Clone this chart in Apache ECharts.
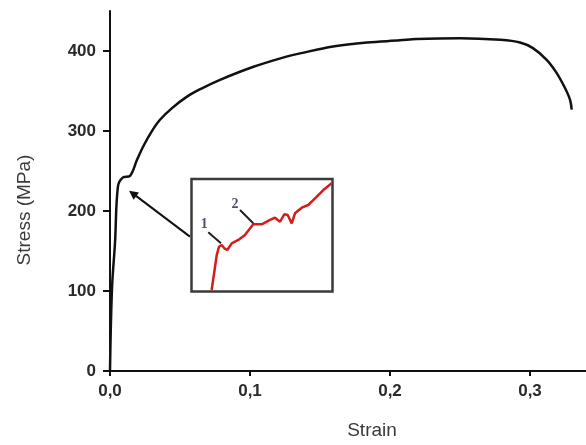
<!DOCTYPE html>
<html lang="en">
<head>
<meta charset="UTF-8">
<title>Stress-Strain</title>
<style>
    html, body { margin: 0; padding: 0; background: #fff; }
    #chart { width: 586px; height: 445px; }
</style>
<script src="https://cdn.jsdelivr.net/npm/echarts@6/dist/echarts.min.js"></script>
</head>
<body>
<div id="chart"></div>
<script>
// main curve
const strain = [0, 0.0014, 0.0036, 0.0057, 0.0093, 0.0143, 0.0193, 0.0238, 0.0296, 0.0357, 0.0443, 0.055, 0.0664, 0.0786, 0.102, 0.126, 0.1357, 0.1593, 0.1836, 0.2071, 0.219, 0.25, 0.279, 0.2929, 0.3021, 0.3119, 0.3191, 0.325, 0.3286, 0.3298];
const stress = [0, 102, 161, 231, 242, 244, 264, 281, 299, 314, 328.6, 343, 354, 364, 380, 393, 397, 405.6, 410.6, 413.3, 415, 416, 414, 410.6, 403.6, 389, 372.4, 353.7, 339, 326.7];

// ticks
const xTicks = [0, 0.1, 0.2, 0.3];
const yTicks = [0, 100, 200, 300, 400];

// inset (zoom of the yield region), box units 0..100
const insetX = [14.3, 16.2, 17.9, 19.5, 21.4, 23.3, 25.4, 28.5, 33.2, 37.9, 43.8, 49.8, 55.7, 59.2, 62.8, 65.8, 68.2, 71.1, 73.4, 78.2, 82.8, 87.6, 93.5, 99.4];
const insetY = [1.3, 17.6, 32.4, 39.8, 41.3, 38.4, 36.9, 42.8, 45.8, 50.2, 59.7, 59.7, 63.6, 65.6, 62.0, 68.6, 68.0, 60.6, 69.5, 74.5, 76.9, 82.8, 90.2, 96.2];

// markers 1 and 2 in the inset
const markNames = ['1', '2'];
const markLabelPos = [[9.1, 59.7], [30.9, 77.5]];
const markLeaders = [[[11.9, 52.6], [20.9, 42.8]], [[34.4, 72.4], [43.8, 60.6]]];

// arrow from inset to curve: [strain, stress]
const arrowFrom = [0.0571, 168];
const arrowTo = [0.0162, 222];

let chart = echarts.init(document.getElementById('chart'), null, {renderer: 'canvas'});

let mainData = strain.map((v, i) => [v, stress[i]]);
let insetData = insetX.map((v, i) => [v, insetY[i]]);
let leaderData = [];
markLeaders.forEach((seg) => {
    leaderData.push(seg[0], seg[1], [null, null]);
});

let option = {
    animation: false,
    backgroundColor: '#fff',
    grid: [
        {left: 110, right: 0, top: 11, bottom: 73},
        {left: 191.5, top: 179, width: 141, height: 112.5, show: true,
            borderColor: '#3a3a3a', borderWidth: 2.5, backgroundColor: '#fff', z: 5}
    ],
    xAxis: [
        {
            type: 'value', gridIndex: 0, min: 0, max: 0.34, interval: 0.1,
            name: 'Strain', nameLocation: 'middle', nameGap: 50,
            nameTextStyle: {fontFamily: 'Liberation Sans', fontSize: 19, color: '#3a3a3a', padding: [0, 0, 0, 48]},
            axisLine: {lineStyle: {color: '#111', width: 2}},
            axisTick: {show: true, length: 5, lineStyle: {color: '#111', width: 2}, customValues: xTicks},
            axisLabel: {
                customValues: xTicks, margin: 12,
                fontFamily: 'Liberation Sans', fontSize: 17, fontWeight: 'bold', color: '#2a2a2a',
                formatter: (v) => v.toFixed(1).replace('.', ',')
            },
            splitLine: {show: false}
        },
        {type: 'value', gridIndex: 1, min: 0, max: 100, show: false}
    ],
    yAxis: [
        {
            type: 'value', gridIndex: 0, min: 0, max: 450, interval: 50,
            name: 'Stress (MPa)', nameLocation: 'middle', nameGap: 76, nameRotate: 90,
            nameTextStyle: {fontFamily: 'Liberation Sans', fontSize: 19, color: '#3a3a3a', padding: [0, 38, 0, 0]},
            axisLine: {show: true, lineStyle: {color: '#111', width: 2}},
            axisTick: {show: true, length: 7, lineStyle: {color: '#111', width: 2}, customValues: yTicks},
            axisLabel: {
                customValues: yTicks, margin: 14,
                fontFamily: 'Liberation Sans', fontSize: 17, fontWeight: 'bold', color: '#2a2a2a'
            },
            splitLine: {show: false}
        },
        {type: 'value', gridIndex: 1, min: 0, max: 100, show: false}
    ],
    series: [
        {
            type: 'line', xAxisIndex: 0, yAxisIndex: 0, data: mainData,
            smooth: 0.35, symbol: 'none',
            lineStyle: {color: '#111', width: 2.5},
            markLine: {
                silent: true, symbol: ['none', 'triangle'], symbolSize: 9,
                lineStyle: {color: '#111', width: 2, type: 'solid'},
                label: {show: false},
                data: [[{coord: arrowFrom}, {coord: arrowTo}]]
            }
        },
        {
            type: 'line', xAxisIndex: 1, yAxisIndex: 1, data: insetData, z: 6,
            symbol: 'none', lineStyle: {color: '#d41c1c', width: 2.5}
        },
        {
            type: 'line', xAxisIndex: 1, yAxisIndex: 1, data: leaderData, z: 6,
            symbol: 'none', connectNulls: false, lineStyle: {color: '#222', width: 2}
        },
        {
            type: 'scatter', xAxisIndex: 1, yAxisIndex: 1, z: 7, symbolSize: 0,
            data: markNames.map((n, i) => ({name: n, value: markLabelPos[i]})),
            label: {
                show: true, position: 'inside', formatter: '{b}',
                fontFamily: 'Liberation Serif', fontSize: 14, fontWeight: 'bold', color: '#1c2340'
            }
        }
    ]
};
chart.setOption(option);
</script>
</body>
</html>
